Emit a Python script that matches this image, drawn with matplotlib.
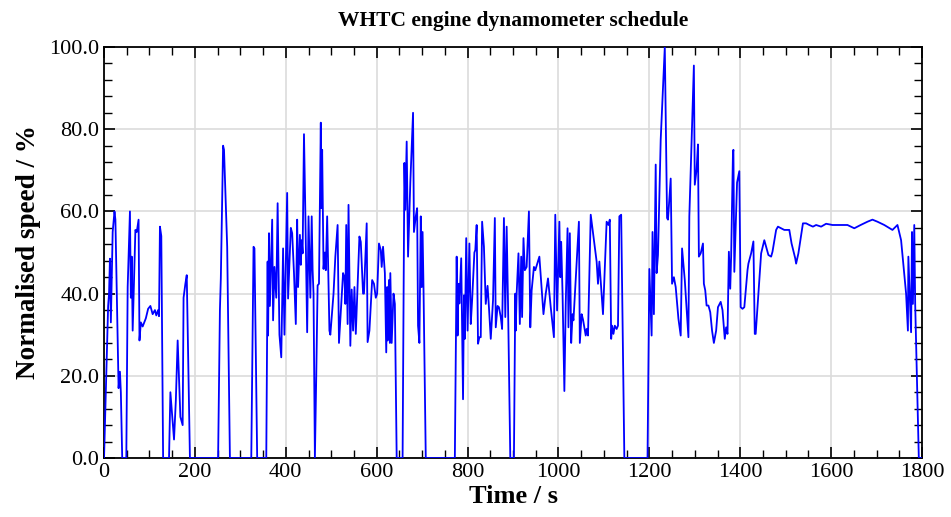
import numpy as np
import matplotlib.pyplot as plt
plt.rcParams['font.family'] = ['Liberation Serif', 'DejaVu Serif']

# time (s) and normalised speed (%)
t = [0, 9, 11, 13, 15, 19, 23, 25, 32, 35, 37, 40, 49, 52, 57, 59, 61, 63, 69, 72, 76, 78, 81, 85, 92, 97,
     102, 107, 112, 115, 119, 121, 123, 126, 130, 143, 146, 154, 158, 162, 168, 173, 175, 179, 182, 189,
     251, 255, 257, 262, 264, 271, 277, 324, 329, 331, 337, 357, 360, 361, 363, 365, 370, 372, 375, 379,
     382, 386, 390, 394, 397, 403, 405, 411, 414, 418, 422, 425, 427, 431, 433, 435, 437, 440, 443, 447,
     450, 454, 457, 459, 461, 464, 467, 470, 473, 477, 478, 480, 483, 486, 488, 491, 496, 498, 505, 509,
     514, 517, 526, 529, 531, 533, 536, 538, 542, 545, 548, 551, 554, 562, 565, 570, 572, 578, 580, 584,
     590, 594, 598, 601, 605, 609, 611, 614, 618, 621, 623, 624, 627, 629, 630, 633, 637, 640, 644, 657,
     661, 663, 666, 669, 674, 680, 682, 686, 689, 691, 694, 697, 699, 701, 703, 708, 772, 776, 778, 780,
     782, 786, 790, 792, 794, 797, 800, 804, 807, 810, 815, 817, 820, 823, 826, 829, 832, 836, 840, 844,
     847, 851, 856, 860, 862, 866, 869, 873, 876, 880, 883, 886, 889, 894, 902, 905, 906, 908, 912, 915,
     918, 920, 923, 926, 930, 935, 938, 941, 946, 949, 958, 967, 972, 977, 983, 990, 993, 997, 1002, 1004,
     1006, 1009, 1013, 1016, 1020, 1022, 1025, 1028, 1031, 1033, 1045, 1047, 1051, 1054, 1060, 1062, 1065,
     1071, 1084, 1087, 1090, 1098, 1106, 1110, 1113, 1116, 1118, 1121, 1124, 1128, 1131, 1134, 1138, 1145,
     1196, 1200, 1205, 1207, 1210, 1214, 1216, 1219, 1225, 1234, 1239, 1241, 1247, 1250, 1254, 1258, 1264,
     1269, 1272, 1278, 1286, 1288, 1298, 1300, 1304, 1307, 1309, 1313, 1318, 1320, 1323, 1326, 1330, 1334,
     1338, 1342, 1347, 1351, 1357, 1361, 1366, 1369, 1372, 1375, 1378, 1380, 1384, 1385, 1387, 1393, 1398,
     1401, 1405, 1409, 1416, 1418, 1424, 1429, 1432, 1434, 1440, 1446, 1453, 1456, 1462, 1468, 1471, 1479,
     1483, 1490, 1497, 1508, 1513, 1521, 1523, 1528, 1538, 1545, 1552, 1560, 1567, 1578, 1589, 1603, 1615,
     1621, 1636, 1651, 1665, 1680, 1691, 1702, 1717, 1735, 1746, 1754, 1765, 1769, 1770, 1776, 1778, 1780,
     1783, 1785, 1793, 1800]
speed = [0, 37, 40, 48.5, 33, 55, 60, 58, 17, 21, 16, 0, 0, 41.6, 60, 39, 49, 31, 55.5, 55, 58, 28.6, 33, 32,
         34, 36.3, 37, 35, 36, 34.7, 36, 34.5, 56.3, 54, 0, 0, 16, 4.5, 14, 28.6, 10, 8, 39, 42.4, 44.5, 0,
         0, 36, 43.7, 76, 75, 51.4, 0, 0, 51.4, 51, 0, 0, 47.8, 29.8, 54.7, 37, 58, 33.5, 46.5, 39,
         62, 30, 24.5, 51, 30, 64.5, 38.8, 56, 54.7, 45, 32.6, 58, 41.6, 54.3, 47, 53, 49.8, 78.8, 59.6, 30.6,
         58.8, 39, 58.8, 45.7, 40, 0, 20, 42, 42.4, 81.6, 60.8, 75, 46, 50, 45.7, 58.8, 31, 30, 40, 49,
         56.7, 28, 45, 44, 37.5, 56.7, 32.6, 61.6, 27.3, 41, 31, 41.6, 30.2, 53.9, 52.6, 40, 40, 57.1, 28.2, 31,
         43.3, 42.4, 39, 40, 52.2, 50.6, 46.5, 51.4, 45, 25.7, 41.6, 28.6, 43.3, 28, 45, 28, 40, 37.5, 0, 0,
         71.8, 60.4, 77, 49, 67, 84, 55, 58.8, 60.8, 32.2, 28, 58.8, 41.6, 55, 41.6, 0, 0, 49, 29.8, 42.4,
         37.6, 48.6, 14.3, 39.6, 29, 53.5, 31, 52.2, 32.6, 38.4, 50, 50.6, 56.7, 27.8, 29.4, 29.4, 57.5, 51.4, 37.5, 41.9,
         36.7, 29, 38.4, 58.4, 31.8, 37, 36.7, 34.3, 31.4, 58.4, 34.3, 56.3, 37.6, 0, 0, 40, 31, 40, 49.8, 32.6,
         49, 34.3, 53.5, 45.7, 46.5, 60, 31.8, 40.8, 46.5, 45.7, 49, 35, 40, 43.7, 36.7, 29.4, 59.2, 35.9, 57.5, 44,
         52.6, 40, 16.3, 37.5, 55.9, 31.8, 54.7, 28, 35, 33.5, 57.5, 28, 35, 33.7, 29.8, 31.4, 29.8,
         59.2, 47.8, 42.4, 47.8, 35, 57.5, 56.7, 58, 29, 32.2, 30.2, 32.2, 31.4, 32.2, 58.8, 59.2, 0,
         0, 46, 29.8, 55, 35, 71.4, 45, 49.4, 77.5, 100, 58.4, 58, 68, 42.4, 44, 41.6, 33.9,
         29.8, 51, 43.3, 29.4, 58.8, 95.5, 66.5, 70.2, 76.3, 49, 49.8, 52.2, 42.4, 40.8, 37.1, 37.1, 35.5,
         31, 28, 31, 36.7, 38, 36, 29, 31.8, 30.2, 50.2, 41.2, 49, 74.3, 75, 45.3, 67, 69.8,
         36.7, 36.3, 36.7, 45.7, 47.3, 49.8, 52.7, 30.2, 30.2, 40, 49.8, 53, 51.8, 49.4, 49, 50.2, 55.5,
         56.3, 55.9, 55.5, 55.5, 52.2, 48.6, 47.3, 49.8, 57.1, 57.1, 56.7, 56.3, 56.7, 56.3, 57, 56.7, 56.7,
         56.7, 56.7, 55.9, 56.7, 57.5, 58, 57.5, 56.7, 55.5, 56.7, 53, 40, 31, 49, 30.6, 55, 37.5,
         56.7, 37.5, 0, 0]

x_major = np.arange(0, 1801, 200)
y_major = np.arange(0, 101, 20)

fig = plt.figure(figsize=(9.51, 5.17), dpi=100)
ax = fig.add_axes([0.1094, 0.1141, 0.8601, 0.7949])

ax.plot(t, speed, color='#0000ff', lw=1.3, zorder=3)

ax.set_xlim(0, 1800)
ax.set_ylim(0, 100)
ax.set_xticks(x_major)
ax.set_xticks(np.arange(0, 1801, 50), minor=True)
ax.set_yticks(y_major)
ax.set_yticks(np.arange(0, 101, 4), minor=True)
ax.set_yticklabels(['%.1f' % v for v in y_major])
ax.grid(True, which='major', color='#dcdcdc', lw=1.2, zorder=0)

ax.tick_params(which='both', direction='in', top=True, right=True, labelsize=16, color='black')
ax.tick_params(which='major', length=8, width=1.2)
ax.tick_params(which='minor', length=6, width=1.0)
for s in ax.spines.values():
    s.set_linewidth(1.3)

ax.set_xlabel('Time / s', fontsize=19, fontweight='bold', labelpad=2)
ax.set_ylabel('Normalised speed / %', fontsize=19.5, fontweight='bold', labelpad=6)
ax.set_title('WHTC engine dynamometer schedule', fontsize=15.5, fontweight='bold', pad=15)

fig.savefig('out.png', dpi=100)
